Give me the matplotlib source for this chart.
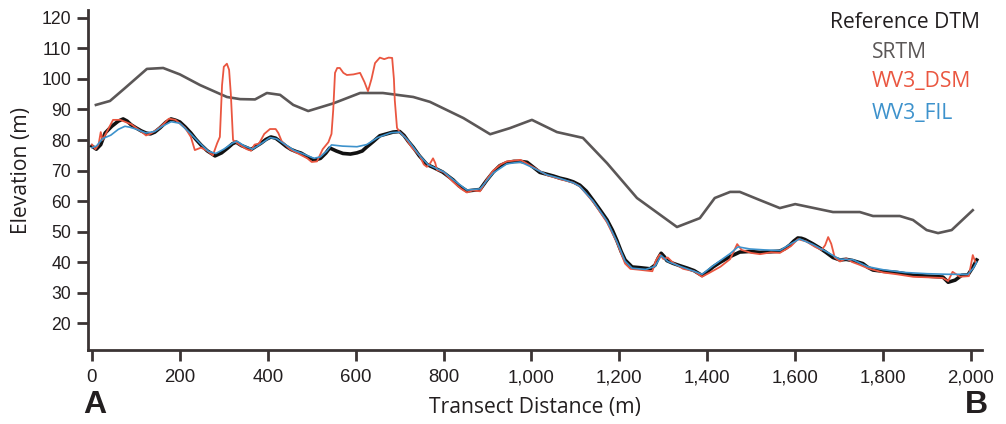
import matplotlib
matplotlib.use("Agg")
import matplotlib.pyplot as plt
from matplotlib.ticker import FuncFormatter

# ---------------- data ----------------
srtm_x = [9, 41, 75, 125, 162, 200, 246, 307, 337, 371, 398, 428, 458, 492, 549, 610, 662, 731, 769,
          845, 906, 951, 1001, 1058, 1117, 1172, 1240, 1331, 1383, 1417, 1452, 1474, 1520, 1565, 1600,
          1686, 1747, 1777, 1838, 1868, 1899, 1925, 1956, 2004]
srtm_y = [91.5, 92.8, 97.0, 103.3, 103.6, 101.5, 98.0, 94.1, 93.4, 93.3, 95.4, 94.8, 91.5, 89.5, 92.0,
          95.4, 95.4, 94.1, 92.5, 87.2, 81.9, 83.9, 86.6, 82.6, 80.7, 72.4, 61.0, 51.5, 54.4, 61.0, 63.0,
          63.0, 60.3, 57.7, 59.0, 56.4, 56.4, 55.1, 55.1, 53.8, 50.5, 49.5, 50.5, 57.0]

dtm_x = [0, 10, 20, 30, 45, 60, 71, 80, 89, 100, 112, 123, 133, 143, 155, 168, 180, 190, 200, 212, 225,
         236, 248, 262, 280, 295, 309, 320, 328, 340, 352, 362, 372, 385, 396, 407, 418, 430, 442, 453,
         465, 476, 490, 507, 520, 532, 541, 556, 571, 588, 603, 615, 625, 640, 655, 670, 685, 700, 710,
         720, 731, 745, 762, 780, 798, 810, 822, 835, 853, 870, 883, 898, 913, 928, 944, 960, 975, 990,
         1005, 1019, 1035, 1050, 1065, 1080, 1095, 1110, 1125, 1140, 1155, 1172, 1184, 1194, 1204, 1213,
         1229, 1245, 1258, 1270, 1281, 1288, 1295, 1302, 1308, 1322, 1338, 1355, 1370, 1388, 1400, 1413,
         1430, 1452, 1474, 1497, 1520, 1545, 1565, 1578, 1588, 1597, 1606, 1614, 1622, 1640, 1656, 1670,
         1686, 1702, 1716, 1731, 1745, 1754, 1765, 1777, 1800, 1832, 1850, 1868, 1890, 1915, 1936, 1948,
         1964, 1979, 1993, 2005, 2013]
dtm_y = [78.0, 77.0, 78.5, 82.3, 84.5, 86.2, 86.9, 86.2, 85.0, 84.0, 83.0, 82.3, 82.0, 82.6, 84.0, 85.8,
         86.9, 86.5, 85.9, 84.3, 82.3, 80.3, 78.4, 76.5, 74.8, 75.8, 77.4, 78.8, 79.3, 78.2, 77.5, 76.9,
         77.8, 79.0, 80.2, 81.0, 80.6, 79.3, 77.9, 76.9, 76.2, 75.7, 74.5, 73.4, 74.0, 75.7, 77.4, 76.4,
         75.6, 75.4, 75.8, 76.4, 77.7, 79.5, 81.4, 82.0, 82.6, 82.8, 81.5, 79.5, 77.6, 74.8, 72.0, 70.8,
         69.5, 68.2, 66.9, 65.0, 63.3, 63.6, 63.8, 66.8, 69.5, 71.6, 72.6, 73.0, 73.0, 72.7, 71.0, 69.4,
         68.8, 68.2, 67.5, 67.0, 66.3, 65.2, 63.2, 60.3, 57.3, 53.8, 50.5, 47.2, 43.5, 40.7, 38.4, 38.2,
         38.0, 37.8, 39.0, 41.2, 42.9, 41.8, 40.5, 39.6, 38.8, 38.0, 37.2, 35.6, 36.8, 38.4, 40.0, 41.8,
         43.3, 43.5, 43.2, 43.4, 43.6, 44.5, 45.6, 46.9, 47.9, 47.8, 47.4, 46.0, 44.6, 43.2, 41.5, 40.7,
         40.9, 40.5, 39.9, 39.5, 38.3, 37.4, 37.0, 36.6, 36.2, 35.7, 35.5, 35.3, 35.1, 33.4, 34.1, 35.7,
         35.8, 38.5, 40.7]

dsm_x = [0, 8, 15, 20, 24, 35, 48, 64, 75, 89, 112, 123, 135, 155, 175, 190, 212, 225, 234, 248, 262,
         275, 285, 291, 296, 300, 307, 312, 316, 321, 335, 352, 362, 370, 380, 392, 405, 418, 424, 432,
         450, 470, 490, 500, 512, 525, 538, 545, 549, 553, 558, 564, 572, 580, 595, 610, 620, 628, 636,
         644, 655, 665, 675, 683, 687, 689, 694, 700, 712, 728, 745, 755, 762, 770, 776, 781, 785, 800,
         820, 840, 853, 866, 883, 898, 913, 930, 944, 975, 1005, 1035, 1065, 1095, 1110, 1140, 1172,
         1194, 1213, 1225, 1245, 1262, 1275, 1283, 1292, 1300, 1310, 1322, 1345, 1370, 1388, 1405, 1430,
         1452, 1468, 1478, 1500, 1520, 1545, 1565, 1590, 1606, 1625, 1645, 1660, 1668, 1675, 1682, 1690,
         1702, 1716, 1730, 1745, 1765, 1800, 1832, 1868, 1900, 1936, 1948, 1958, 1975, 1995, 2004, 2010]
dsm_y = [78.5, 77.0, 78.5, 82.6, 80.0, 83.0, 86.6, 86.6, 86.0, 85.2, 82.8, 81.5, 82.2, 84.2, 87.0, 86.6,
         84.0, 81.0, 76.7, 77.5, 76.5, 75.0, 79.0, 81.0, 98.0, 104.0, 105.0, 103.0, 95.0, 80.0, 78.5, 77.0,
         76.5, 78.5, 78.8, 82.0, 83.6, 83.6, 82.3, 79.5, 77.0, 75.5, 74.0, 72.8, 73.0, 77.0, 79.3, 82.0,
         90.0, 102.0, 103.6, 103.6, 102.0, 101.3, 101.5, 102.0, 99.0, 96.0, 100.0, 105.2, 107.0, 106.5,
         107.0, 106.9, 100.0, 93.0, 84.0, 82.6, 81.0, 77.5, 75.0, 72.0, 71.2, 72.5, 74.0, 72.5, 70.2, 69.5,
         66.5, 64.0, 62.8, 63.5, 63.2, 67.0, 70.0, 72.0, 73.0, 73.5, 71.0, 68.5, 67.2, 66.0, 64.8, 59.8,
         53.0, 46.5, 39.5, 37.8, 37.5, 37.2, 37.0, 40.5, 42.5, 41.0, 41.5, 39.8, 37.8, 37.0, 35.2, 36.5,
         38.5, 41.0, 45.9, 44.0, 43.0, 42.6, 43.2, 43.0, 45.2, 47.5, 46.8, 45.0, 44.0, 45.5, 48.2, 46.0,
         41.5, 40.2, 41.2, 40.0, 39.2, 38.0, 36.6, 36.0, 35.2, 35.0, 34.8, 33.8, 36.8, 35.2, 35.4, 42.3,
         40.0]

fil_x = [0, 10, 25, 43, 60, 75, 86, 100, 123, 143, 160, 180, 200, 225, 248, 265, 282, 300, 320, 330, 345,
         365, 385, 405, 420, 440, 460, 480, 505, 520, 535, 545, 570, 603, 625, 650, 680, 700, 720, 745,
         765, 800, 822, 853, 883, 913, 944, 975, 1005, 1035, 1065, 1095, 1110, 1140, 1172, 1194, 1213,
         1229, 1260, 1281, 1295, 1310, 1340, 1370, 1388, 1413, 1452, 1470, 1497, 1530, 1565, 1590, 1610,
         1640, 1670, 1700, 1731, 1765, 1800, 1850, 1900, 1948, 1993, 2005, 2013]
fil_y = [77.5, 78.0, 80.5, 81.6, 83.5, 84.5, 84.2, 83.6, 82.3, 82.8, 84.5, 86.0, 85.5, 82.0, 78.6, 76.3,
         75.6, 77.0, 79.0, 79.6, 78.2, 77.0, 78.8, 80.8, 80.4, 78.5, 76.6, 75.5, 74.0, 74.5, 76.5, 78.4,
         78.0, 77.8, 78.5, 80.8, 82.4, 82.6, 79.8, 75.0, 71.9, 69.6, 67.0, 63.6, 64.0, 69.2, 72.2, 72.8,
         70.8, 68.6, 67.4, 66.0, 64.8, 60.0, 53.4, 46.8, 40.3, 38.0, 37.6, 38.6, 42.2, 40.2, 38.5, 37.0,
         36.0, 38.8, 42.8, 45.0, 44.3, 44.0, 43.8, 46.0, 47.6, 45.8, 43.5, 41.0, 40.8, 38.5, 37.5, 36.6,
         36.2, 36.0, 36.0, 38.0, 40.0]

x_ticks = [0, 200, 400, 600, 800, 1000, 1200, 1400, 1600, 1800, 2000]
y_ticks = [20, 30, 40, 50, 60, 70, 80, 90, 100, 110, 120]
series_names = ["Reference DTM", "SRTM", "WV3_DSM", "WV3_FIL"]

# ---------------- styling ----------------
c_text = "#231f20"
c_axis = "#3b3434"
c_srtm = "#5b5757"
c_dtm = "#111111"
c_dsm = "#ea5640"
c_fil = "#3d92cc"

W, H = 1006, 424
fig = plt.figure(figsize=(W / 100, H / 100), dpi=100)
ax = fig.add_axes([88 / W, 1 - 350 / H, (982 - 88) / W, (350 - 10) / H])

ax.plot(srtm_x, srtm_y, color=c_srtm, lw=1.9, zorder=2)
ax.plot(dtm_x, dtm_y, color=c_dtm, lw=2.6, zorder=3)
ax.plot(dsm_x, dsm_y, color=c_dsm, lw=1.3, zorder=4)
ax.plot(fil_x, fil_y, color=c_fil, lw=1.2, zorder=5)

ax.set_xlim(-9, 2025)
ax.set_ylim(11.2, 122.6)
ax.set_xticks(x_ticks)
ax.set_yticks(y_ticks)
ax.xaxis.set_major_formatter(FuncFormatter(lambda v, p: f"{int(v):,}"))

for s in ["top", "right"]:
    ax.spines[s].set_visible(False)
for s in ["left", "bottom"]:
    ax.spines[s].set_color(c_axis)
    ax.spines[s].set_linewidth(2.0)

ax.tick_params(axis="both", direction="out", length=8, width=2, color=c_axis,
               labelcolor=c_text)
ax.tick_params(axis="x", pad=6, labelsize=13.4)
ax.tick_params(axis="y", pad=4, labelsize=12.7)
for lab in ax.get_xticklabels() + ax.get_yticklabels():
    lab.set_fontfamily("Liberation Sans")

lab_font = "Open Sans"
fs_lab = 15.2
fig.text(22 / W, 1 - 170 / H, "Elevation (m)", rotation=90, ha="center", va="center",
         fontsize=fs_lab, family=lab_font, color=c_text)
fig.text(535 / W, 1 - 408 / H, "Transect Distance (m)", ha="center", va="center",
         fontsize=fs_lab, family=lab_font, color=c_text)
fig.text(95 / W, 1 - 405 / H, "A", ha="center", va="center", fontsize=23,
         fontweight="bold", family="Liberation Sans", color=c_text)
fig.text(976 / W, 1 - 405 / H, "B", ha="center", va="center", fontsize=23,
         fontweight="bold", family="Liberation Sans", color=c_text)

# legend as coloured text
fig.text(830 / W, 1 - 22 / H, series_names[0], ha="left", va="center", fontsize=fs_lab,
         family=lab_font, color=c_text)
fig.text(872 / W, 1 - 52 / H, series_names[1], ha="left", va="center", fontsize=fs_lab,
         family=lab_font, color=c_srtm)
fig.text(872 / W, 1 - 81 / H, series_names[2], ha="left", va="center", fontsize=fs_lab,
         family=lab_font, color=c_dsm)
fig.text(872 / W, 1 - 113 / H, series_names[3], ha="left", va="center", fontsize=fs_lab,
         family=lab_font, color=c_fil)

fig.savefig("out.png", dpi=100, facecolor="white")
